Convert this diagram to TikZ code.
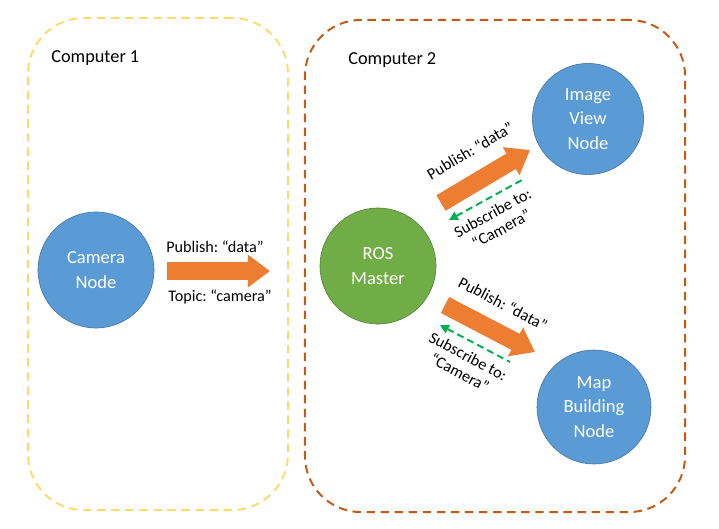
\documentclass[tikz,border=0pt]{standalone}
\usepackage{fontspec}
\setmainfont{Carlito}
\usetikzlibrary{arrows.meta,positioning}
\definecolor{NodeBlue}{HTML}{5B9BD5}
\definecolor{NodeBlueEdge}{HTML}{41719C}
\definecolor{NodeGreen}{HTML}{70AD47}
\definecolor{NodeGreenEdge}{HTML}{507E32}
\definecolor{PubOrange}{HTML}{ED7D31}
\definecolor{SubGreen}{HTML}{00B050}
\definecolor{BoxYellow}{HTML}{FFD966}
\definecolor{BoxRust}{HTML}{C55A11}
\frenchspacing

\begin{document}
\begin{tikzpicture}[
  x=0.025cm,y=-0.025cm,
  compbox/.style={rounded corners=1.4cm,dash pattern=on 6pt off 4pt,minimum width=6.5cm,minimum height=12.3cm},
  comptitle/.style={font=\fontsize{13}{15}\selectfont,inner sep=0pt},
  rosnode/.style={circle,draw=NodeBlueEdge,fill=NodeBlue,minimum size=2.9cm,align=center,text=white,font=\fontsize{13.2}{17.5}\selectfont},
  pubarrow/.style={draw=PubOrange,line width=0.45cm,-{Triangle[length=0.55cm,width=0.78cm]}},
  subarrow/.style={draw=SubGreen,line width=1.4pt,dash pattern=on 5pt off 3pt,{Triangle[length=2.2mm,width=2.2mm]}-},
  lbl/.style={font=\fontsize{11.5}{13}\selectfont,align=center,inner sep=0pt}
]
\useasboundingbox (0,0) rectangle (719,528);
% computer boxes
\node[compbox,draw=BoxYellow,line width=1.3pt] (comp1) at (158,264) {};
\node[compbox,draw=BoxRust,line width=1.4pt,minimum width=9.5cm] (comp2) at (495,266) {};
\node[comptitle,anchor=west] (title1) at (51,58) {Computer 1};
\node[comptitle,anchor=west] (title2) at (348,60) {Computer 2};
% nodes
\node[rosnode] (camera) at (96,270) {Camera\\Node};
\node[rosnode,fill=NodeGreen,draw=NodeGreenEdge] (master) at (378,266) {ROS\\Master};
\node[rosnode,minimum size=2.78cm] (imgview) at (588,119) {Image\\View\\Node};
\node[rosnode,minimum size=2.85cm] (mapbuild) at (594,407) {Map\\Building\\Node};
% arrow ends
\coordinate (pubcam) at (167,271);
\coordinate (pubcamend) at (270,271);
\coordinate (pubimg) at (441,203);
\coordinate (pubimgend) at (530,150);
\coordinate (pubmap) at (445,305);
\coordinate (pubmapend) at (535,352);
\coordinate (subimg) at (449,220);
\coordinate (subimgend) at (522,180);
\coordinate (submap) at (440,325);
\coordinate (submapend) at (510,362);
% camera publishes
\draw[pubarrow] (pubcam) -- (pubcamend);
\node[lbl] (camdata) at (215,247) {Publish: “data"};
\node[lbl] (camtopic) at (220,297) {Topic: “camera”};
% to image view
\draw[pubarrow] (pubimg) -- node[lbl,sloped,above=0.38cm] (imgdata) {Publish: “data"} (pubimgend);
\draw[subarrow] (subimg) -- node[lbl,sloped,below=0.2cm] (imgsub) {Subscribe to:\\“Camera"} (subimgend);
% to map building
\draw[pubarrow] (pubmap) -- node[lbl,sloped,above=0.33cm] (mapdata) {Publish: “data"} (pubmapend);
\draw[subarrow] (submap) -- node[lbl,sloped,below=0.2cm] (mapsub) {Subscribe to:\\“Camera"} (submapend);
\end{tikzpicture}
\end{document}
